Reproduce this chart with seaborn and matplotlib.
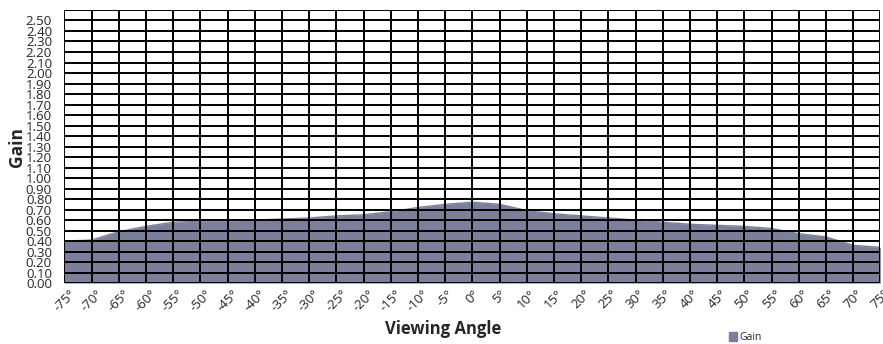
import numpy as np
import pandas as pd
import matplotlib
matplotlib.use("Agg")
import matplotlib.pyplot as plt
import seaborn as sns
from matplotlib.patches import Patch

sns.set_style("white")
plt.rcParams['font.family'] = ['Open Sans', 'DejaVu Sans']

angles = list(range(-75, 80, 5))
gain = [0.40, 0.41, 0.49, 0.54, 0.58, 0.59, 0.59, 0.60, 0.61, 0.62,
        0.64, 0.65, 0.68, 0.72, 0.75, 0.77, 0.75, 0.69, 0.66, 0.64,
        0.62, 0.60, 0.58, 0.56, 0.55, 0.54, 0.52, 0.47, 0.44, 0.36, 0.34]
y_ticks = [round(i * 0.1, 2) for i in range(26)]

df = pd.DataFrame({"angle": angles, "gain": gain})
fill_color = "#7b7f9a"

fig = plt.figure(figsize=(8.83, 3.44), dpi=100)
ax = fig.add_axes([0.073, 0.177, 0.924, 0.794])

ax.fill_between(df["angle"], df["gain"], 0, color=fill_color, lw=0, zorder=1)
sns.lineplot(data=df, x="angle", y="gain", ax=ax, color=fill_color, lw=1, zorder=2)

ax.set_xlim(-75, 75)
ax.set_ylim(0, 2.6)
ax.set_xticks(angles)
ax.set_xticklabels([f"{a}\u00b0" for a in angles], rotation=45, ha="center",
                   va="top", fontsize=9.5)
ax.set_yticks(y_ticks)
ax.set_yticklabels([f"{v:.2f}" for v in y_ticks], fontsize=9.5)
ax.tick_params(axis="y", length=8, width=1.2, pad=1, color="black")
ax.tick_params(axis="x", length=0, pad=3)
for v in y_ticks + [2.6]:
    ax.axhline(v, color="black", lw=1.4, zorder=3)
for a in angles:
    ax.axvline(a, color="black", lw=1.4, zorder=3)
for s in ax.spines.values():
    s.set_visible(False)

ax.set_xlabel("Viewing Angle", fontsize=12, fontweight="bold")
ax.xaxis.set_label_coords(0.464, -0.135)
ax.set_ylabel("Gain", fontsize=12.5, fontweight="bold")
ax.yaxis.set_label_coords(-0.047, 0.5)

fig.legend(handles=[Patch(color=fill_color, label="Gain")], loc="lower left",
           bbox_to_anchor=(0.815, -0.025), frameon=False, fontsize=7.5,
           handlelength=0.8, handleheight=0.9, handletextpad=0.15)

fig.savefig("out.png", dpi=100)
